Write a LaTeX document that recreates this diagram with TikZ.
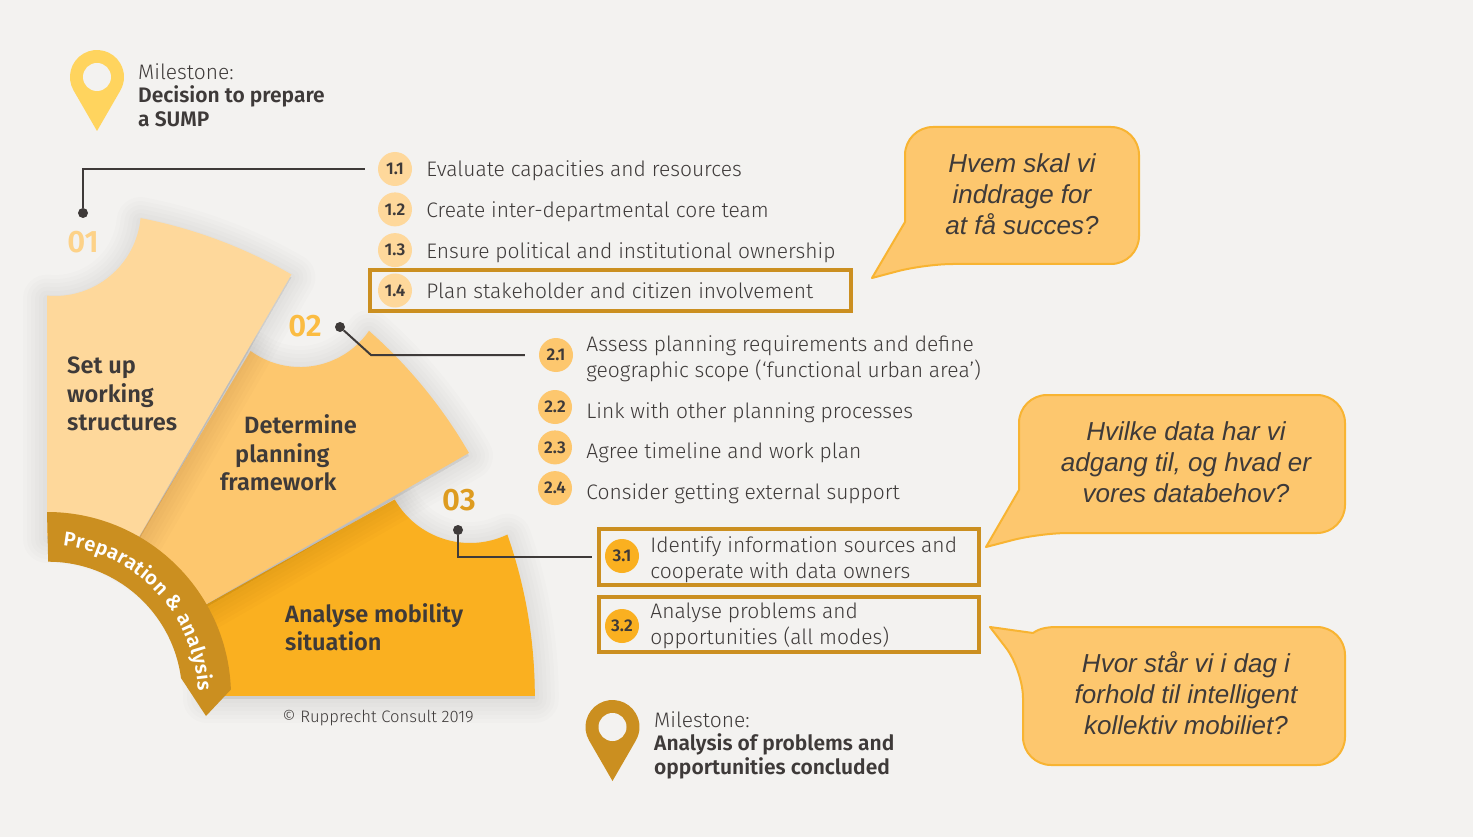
\documentclass[tikz,border=0pt]{standalone}
\usepackage{fontspec}
\setmainfont{Fira Sans Light}[BoldFont={Fira Sans SemiBold}]
\newfontfamily\askfont{Liberation Sans}
\usetikzlibrary{positioning,decorations.text}
\definecolor{pagebg}{RGB}{243,242,240}
\definecolor{toneA}{RGB}{254,216,155}
\definecolor{toneB}{RGB}{253,199,110}
\definecolor{toneC}{RGB}{250,176,32}
\definecolor{band}{RGB}{203,143,32}
\definecolor{pinA}{RGB}{255,212,94}
\definecolor{ink}{RGB}{62,58,57}
\definecolor{askedge}{RGB}{248,180,50}
\newcommand{\bandfont}{\fontsize{20}{22}\selectfont\bfseries}
\newcommand{\secA}{(47,536) -- (47,295.6) arc[start angle=95.3,end angle=5.4,radius=86] arc[start angle=-79,end angle=-60,radius=488] -- (127,557.4) arc[start angle=-60,end angle=-90,radius=160] -- cycle}
\newcommand{\secB}{(127,557.4) -- (250.6,351) arc[start angle=126,end angle=34.7,radius=84] arc[start angle=-48.6,end angle=-30,radius=488] -- (185.6,616) arc[start angle=-30,end angle=-60,radius=160] -- cycle}
\newcommand{\secC}{(185.6,616) -- (394.7,499.5) arc[start angle=150,end angle=64.6,radius=87] arc[start angle=-19.3,end angle=0,radius=488] -- (207,696) arc[start angle=0,end angle=-30,radius=160] -- cycle}
\newcommand{\secBand}{(47,512) arc[start angle=-90,end angle=-2,radius=184] -- (206,716) -- (181,678) arc[start angle=-7.6,end angle=-90,radius=134] -- cycle}
\newcommand{\softshadow}[1]{%
  \foreach \w in {48,40,32,24,16,8}{\draw[black,opacity=0.01,line width=\w pt,line join=round,fill=black,yshift=-3pt] #1;}}
\newcommand{\pinmark}[3]{%
  \fill[#3] ({#1-23.4},{#2+13.5}) arc[start angle=150,end angle=390,radius=27] -- ({#1},{#2+54}) -- cycle;
  \fill[pagebg] (#1,#2) circle[radius=14];}

\begin{document}
\begin{tikzpicture}[
    x=1pt, y=-1pt,
    numdot/.style={circle, minimum size=34pt, inner sep=0pt, text=ink, font=\fontsize{17}{18}\selectfont\bfseries},
    steptext/.style={inner sep=0pt, align=left, text=ink, font=\fontsize{21}{26}\selectfont},
    stepline/.style={steptext, text height=16pt, text depth=0pt},
    picked/.style={draw=band, line width=4pt, minimum height=41pt, inner sep=0pt},
    seclabel/.style={inner sep=0pt, align=left, text=ink, anchor=west, font=\fontsize{23.6}{28.5}\selectfont\bfseries},
    secnum/.style={inner sep=0pt, font=\fontsize{31}{36}\selectfont\bfseries},
    stone/.style={inner sep=0pt, align=left, anchor=west, text=ink, font=\fontsize{21}{23.5}\selectfont},
    askbox/.style={draw=askedge, fill=toneB, line width=2pt, line join=round},
    asktext/.style={inner sep=0pt, align=center, text=ink, font=\askfont\itshape\fontsize{26}{31}\selectfont},
    enddot/.style={circle, fill=ink, minimum size=10pt, inner sep=0pt},
    link/.style={draw=ink, line width=2pt}
  ]
  \useasboundingbox (0,0) rectangle (1473,837);
  \fill[pagebg] (0,0) rectangle (1473,837);

  \softshadow{\secC}
  \fill[toneC] \secC;
  \softshadow{\secB}
  \fill[toneB] \secB;
  \softshadow{\secA}
  \fill[toneA] \secA;
  \fill[band] \secBand;
  \path[decorate, decoration={text along path, text color=white, text align=fit to path,
      text={|\bandfont|Preparation {\&} analysis}}]
    (62.8,545.8) arc[start angle=-84,end angle=-2,radius=151];

  \pinmark{97}{77}{pinA}
  \pinmark{612.5}{727}{band}

  \node[stone] (stoneA) at (138,95) {Milestone:\\\textbf{Decision to prepare}\\\textbf{a SUMP}};
  \node[stone] (stoneB) at (654,745) {Milestone:\\\textbf{Analysis of problems and}\\\textbf{opportunities concluded}};

  \node[secnum, text=toneA!85!toneC] (numA) at (83,242) {01};
  \node[secnum, text=toneC!85!white] (numB) at (305,326) {02};
  \node[secnum, text=band!60!toneC] (numC) at (459,500) {03};
  \node[seclabel] (labelA) at (67,394) {Set up\\working\\structures};
  \node[seclabel] (labelB) at (220,453) {\hspace*{24pt}Determine\\\hspace*{15pt}planning\\framework};
  \node[seclabel] (labelC) at (285,627) {Analyse mobility\\situation};
  \node[inner sep=0pt, text=ink, font=\fontsize{16.6}{18}\selectfont] (credit) at (378,718) {© Rupprecht Consult 2019};

  \node[numdot, fill=toneA] (n11) at (395,169) {1.1};
  \node[numdot, fill=toneA, below=6pt of n11] (n12) {1.2};
  \node[numdot, fill=toneA, below=6.3pt of n12] (n13) {1.3};
  \node[numdot, fill=toneA, below=6pt of n13] (n14) {1.4};
  \node[stepline, right=14pt of n11] (t11) {Evaluate capacities and resources};
  \node[stepline, right=14pt of n12] (t12) {Create inter-departmental core team};
  \node[stepline, right=14pt of n13] (t13) {Ensure political and institutional ownership};
  \node[stepline, right=14pt of n14] (t14) {Plan stakeholder and citizen involvement};
  \node[picked, minimum width=481pt] (box14) at (610.5,290.5) {};

  \node[numdot, fill=toneB] (n21) at (556,355) {2.1};
  \node[numdot, fill=toneB] (n22) at (555,407) {2.2};
  \node[numdot, fill=toneB, below=6pt of n22] (n23) {2.3};
  \node[numdot, fill=toneB, below=6.3pt of n23] (n24) {2.4};
  \node[steptext, right=13pt of n21, yshift=-4pt] (t21) {Assess planning requirements and define\\geographic scope (‘functional urban area’)};
  \node[stepline, right=14pt of n22, yshift=-3pt] (t22) {Link with other planning processes};
  \node[stepline, right=14pt of n23, yshift=-3pt] (t23) {Agree timeline and work plan};
  \node[stepline, right=14pt of n24, yshift=-3pt] (t24) {Consider getting external support};

  \node[picked, minimum width=380pt, minimum height=56pt] (box31) at (789,557) {};
  \node[picked, minimum width=380pt, minimum height=55pt] (box32) at (789,624.5) {};
  \node[numdot, fill=toneC] (n31) at (622,556) {3.1};
  \node[numdot, fill=toneC] (n32) at (622,626) {3.2};
  \node[steptext, right=11pt of n31, yshift=-4pt] (t31) {Identify information sources and\\cooperate with data owners};
  \node[steptext, right=11pt of n32, yshift=0pt] (t32) {Analyse problems and\\opportunities (all modes)};

  \node[enddot] (dotA) at (83,213) {};
  \node[enddot] (dotB) at (340,327) {};
  \node[enddot] (dotC) at (458,530) {};
  \draw[link, shorten >=13pt] (dotA) |- (n11);
  \draw[link, shorten >=14pt] (dotB) -- (371,355) -- (n21);
  \draw[link, shorten >=5pt] (dotC) |- (box31);

  \draw[askbox] (925,264) -- (872,278) -- (905,222) [rounded corners=28pt] -- (905,127) -- (1139,127) -- (1139,264) -- cycle;
  \draw[askbox] (1040,533) -- (986,547) -- (1019,490) [rounded corners=28pt] -- (1019,395) -- (1345,395) -- (1345,533) -- cycle;
  \draw[askbox] (1023,670) -- (990,627) -- (1033,633) .. controls (1040,628) and (1048,627) .. (1058,627) [rounded corners=28pt] -- (1345,627) -- (1345,765) -- (1023,765) -- cycle;
  \node[asktext] (askA) at (1022,194) {Hvem skal vi\\inddrage for\\at få succes?};
  \node[asktext] (askB) at (1186,462) {Hvilke data har vi\\adgang til, og hvad er\\vores databehov?};
  \node[asktext] (askC) at (1186,693) {Hvor står vi i dag i\\forhold til intelligent\\kollektiv mobiliet?};
\end{tikzpicture}
\end{document}
